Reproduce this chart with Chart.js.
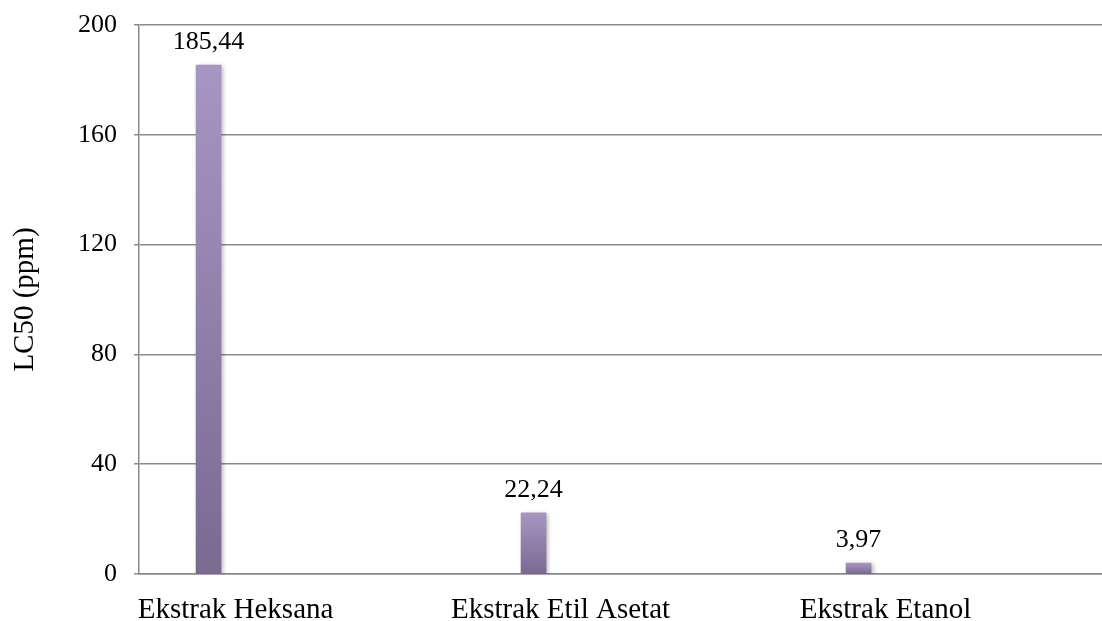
<!DOCTYPE html>
<html>
<head>
<meta charset="utf-8">
<script src="https://cdn.jsdelivr.net/npm/chart.js@4"></script>
<style>
  html, body { margin: 0; padding: 0; background: #fff; }
  #wrap { width: 1102px; height: 621px; }
</style>
</head>
<body>
<div id="wrap"><canvas id="lc50"></canvas></div>
<script>
// data //
const categories = ['Ekstrak Heksana', 'Ekstrak Etil Asetat', 'Ekstrak Etanol'];
const lc50Values = [185.44, 22.24, 3.97];
const yTicks = [0, 40, 80, 120, 160, 200];

const serif = 'Liberation Serif';
const gridGray = '#8a8a8a';

// gradient per bar (top light, bottom dark) //
function barGradient(context) {
  const chart = context.chart;
  const yScale = chart.scales.y;
  if (!chart.chartArea || !yScale || context.parsed === undefined) return '#9483ad';
  const top = yScale.getPixelForValue(context.parsed.y);
  const bottom = yScale.getPixelForValue(0);
  const g = chart.ctx.createLinearGradient(0, top, 0, bottom);
  g.addColorStop(0, '#a796c3');
  g.addColorStop(1, '#7a6991');
  return g;
}

// shadow + value labels //
const barLook = {
  id: 'barLook',
  beforeDatasetsDraw(chart) {
    const ctx = chart.ctx;
    ctx.save();
    ctx.shadowColor = 'rgba(0,0,0,0.28)';
    ctx.shadowBlur = 4;
    ctx.shadowOffsetX = 2;
    ctx.shadowOffsetY = 1;
  },
  afterDatasetsDraw(chart) {
    const ctx = chart.ctx;
    ctx.restore();
    ctx.save();
    ctx.font = '26px "' + serif + '"';
    ctx.fillStyle = '#000';
    ctx.textAlign = 'center';
    ctx.textBaseline = 'alphabetic';
    chart.getDatasetMeta(0).data.forEach(function (bar, i) {
      const txt = lc50Values[i].toFixed(2).replace('.', ',');
      ctx.fillText(txt, bar.x, bar.y - 16);
    });
    ctx.restore();
  }
};

const ctx = document.getElementById('lc50');
new Chart(ctx, {
  type: 'bar',
  data: {
    datasets: [{
      label: 'LC50',
      data: lc50Values.map(function (v, i) { return { x: i, y: v }; }),
      backgroundColor: barGradient,
      borderWidth: 0,
      barThickness: 25
    }]
  },
  plugins: [barLook],
  options: {
    responsive: true,
    maintainAspectRatio: false,
    animation: false,
    layout: { padding: { top: 25, right: 0, left: 0, bottom: 0 } },
    plugins: {
      legend: { display: false },
      tooltip: { enabled: false }
    },
    scales: {
      x: {
        type: 'linear',
        offset: false,
        min: -0.214,
        max: 2.749,
        afterBuildTicks: function (axis) {
          axis.ticks = categories.map(function (c, i) { return { value: i }; });
        },
        afterFit: function (axis) { axis.height = 47; },
        grid: { display: false, drawTicks: false, offset: false },
        border: { display: true, color: gridGray, width: 1.5 },
        ticks: {
          autoSkip: false,
          maxRotation: 0,
          padding: 19,
          labelOffset: 27,
          color: '#000',
          font: { family: serif, size: 29 },
          callback: function (v) { return categories[v]; }
        }
      },
      y: {
        min: 0,
        max: 200,
        afterBuildTicks: function (axis) {
          axis.ticks = yTicks.map(function (t) { return { value: t }; });
        },
        afterFit: function (axis) {
          axis.width = 139;
          axis.paddingTop = 0;
        },
        title: {
          display: true,
          text: 'LC50 (ppm)',
          color: '#000',
          font: { family: serif, size: 29 },
          padding: { top: 8, bottom: 0 }
        },
        grid: { color: gridGray, lineWidth: 1.5, tickLength: 5 },
        border: { display: true, color: gridGray, width: 1.5 },
        ticks: {
          padding: 17,
          color: '#000',
          font: { family: serif, size: 26 }
        }
      }
    }
  }
});
</script>
</body>
</html>
